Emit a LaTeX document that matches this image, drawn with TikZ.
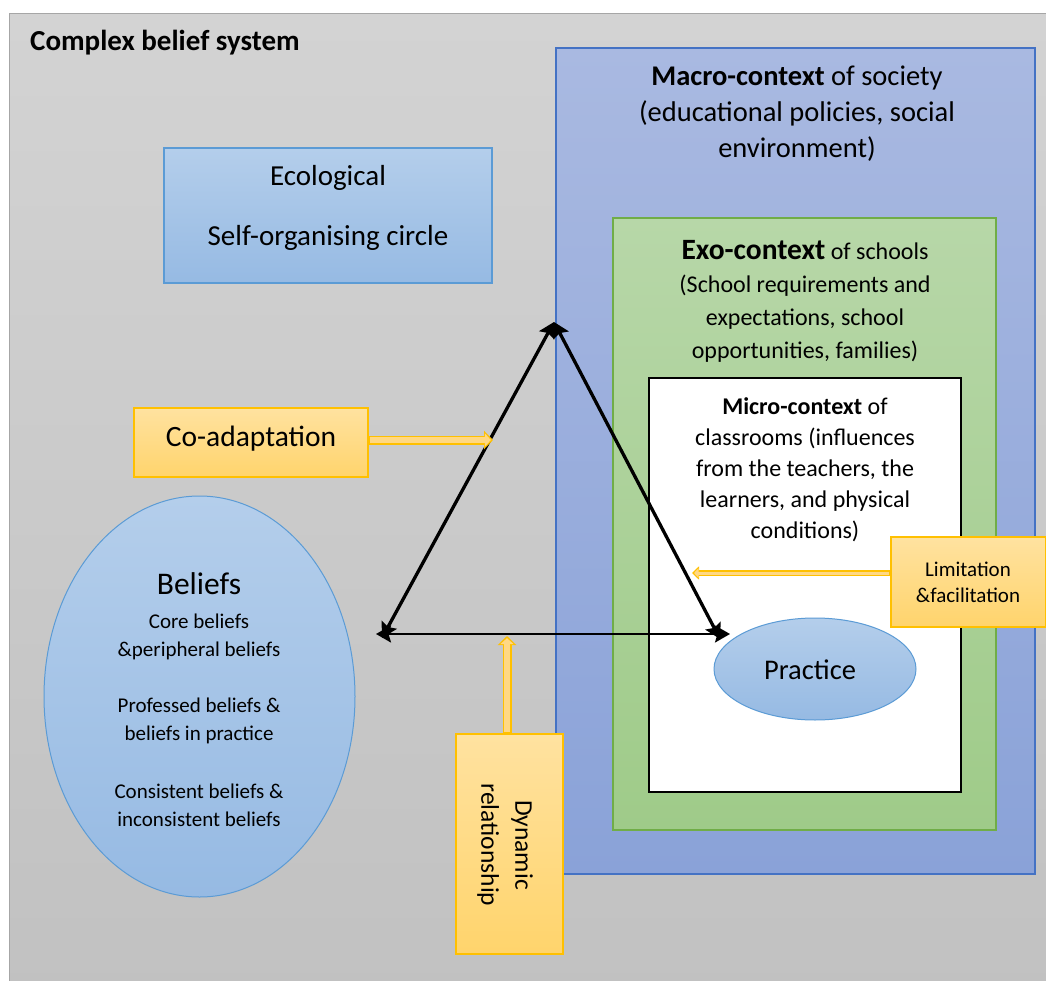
\documentclass[tikz,border=0pt]{standalone}
\usepackage{fontspec}
\setmainfont{Carlito}
\usetikzlibrary{arrows.meta,shapes.geometric,calc}
\definecolor{grayT}{HTML}{D3D3D3}
\definecolor{grayB}{HTML}{C1C1C1}
\definecolor{grayE}{HTML}{A6A6A6}
\definecolor{macroT}{HTML}{A9B9E1}
\definecolor{macroB}{HTML}{8AA2D8}
\definecolor{macroE}{HTML}{4472C4}
\definecolor{exoT}{HTML}{B7D7A8}
\definecolor{exoB}{HTML}{9FCB89}
\definecolor{exoE}{HTML}{70AD47}
\definecolor{lbT}{HTML}{B4CEEB}
\definecolor{lbB}{HTML}{96BAE3}
\definecolor{lbE}{HTML}{5B9BD5}
\definecolor{yT}{HTML}{FFE2A0}
\definecolor{yB}{HTML}{FFD46C}
\definecolor{yE}{HTML}{FFC000}
\definecolor{yF}{HTML}{FFD884}
\begin{document}
\begin{tikzpicture}[x=1pt,y=-1pt,
  box/.style={rectangle, inner sep=0pt, line width=1.3pt},
  macrobox/.style={box, draw=macroE, top color=macroT, bottom color=macroB},
  exobox/.style={box, draw=exoE, top color=exoT, bottom color=exoB},
  microbox/.style={box, draw=black, fill=white, line width=2.2pt},
  bluebox/.style={box, draw=lbE, top color=lbT, bottom color=lbB},
  yellowbox/.style={box, draw=yE, top color=yT, bottom color=yB},
  blueell/.style={ellipse, inner sep=0pt, draw=lbE, line width=1pt, top color=lbT, bottom color=lbB},
  txt/.style={inner sep=0pt, align=center, text=black},
  star tip/.tip={Stealth[length=15pt 0 0,width=17pt 0 0,inset=2.5pt 0]},
  triedge/.style={line width=3.3pt, black, {star tip}-{star tip}},
  tribase/.style={triedge, line width=2.3pt},
  yarrowout/.style={draw=yE, line width=9pt, -{Triangle[length=9pt,width=18pt]}},
  yarrowin/.style={draw=yF, line width=5.6pt, shorten >=2.2pt, -{Triangle[length=6pt,width=13pt]}},
  yarrowthinout/.style={draw=yE, line width=6pt, -{Triangle[length=7pt,width=13pt]}},
  yarrowthinin/.style={draw=yF, line width=3pt, shorten >=2pt, -{Triangle[length=4.5pt,width=9pt]}}
]
\useasboundingbox (0,0) rectangle (1046,981);
\clip (0,0) rectangle (1046,981);
\fill[white] (0,0) rectangle (1046,981);
% outer frame
\shade[top color=grayT, bottom color=grayB] (9.5,13.5) rectangle (1070,1000);
\draw[grayE, line width=1.3pt] (9.5,1000) -- (9.5,13.5) -- (1070,13.5);
\node[txt, anchor=west, font=\bfseries\fontsize{29}{34}\selectfont] (title) at (30,43) {Complex belief system};

% nested contexts
\node[macrobox, minimum width=479, minimum height=826] (macro) at (795.5,461) {};
\node[txt, font=\fontsize{28.5}{36}\selectfont] (macrotxt) at (797,114)
  {\textbf{Macro-context} of society\\(educational policies, social\\environment)};
\node[exobox, minimum width=383, minimum height=612] (exo) at (804.5,524) {};
\node[txt, font=\fontsize{24}{33}\selectfont] (exotxt) at (805,301)
  {{\fontsize{29.5}{33}\selectfont\textbf{Exo-context}} of schools\\(School requirements and\\expectations, school\\opportunities, families)};
\node[microbox, minimum width=312, minimum height=414] (micro) at (805,585) {};
\node[txt, font=\fontsize{24}{31}\selectfont] (microtxt) at (805,469.5)
  {\textbf{Micro-context} of\\classrooms (influences\\from the teachers, the\\learners, and physical\\conditions)};

% ecological box
\node[bluebox, minimum width=328, minimum height=135] (eco) at (328,215.5) {};
\node[txt, font=\fontsize{29}{60}\selectfont] (ecotxt) at (328,208) {Ecological\\Self-organising circle};

% beliefs ellipse
\node[blueell, minimum width=311, minimum height=401] (beliefs) at (199.5,696.5) {};
\node[txt, font=\fontsize{31.5}{36}\selectfont] (bt) at (199,584) {Beliefs};
\node[txt, font=\fontsize{21}{28}\selectfont] (b1) at (199,637) {Core beliefs\\\&peripheral beliefs};
\node[txt, font=\fontsize{21}{28}\selectfont] (b2) at (199,721) {Professed beliefs \&\\beliefs in practice};
\node[txt, font=\fontsize{21}{28}\selectfont] (b3) at (199,805) {Consistent beliefs \&\\inconsistent beliefs};

% practice ellipse
\node[blueell, minimum width=202, minimum height=102] (practice) at (815,669) {};
\node[txt, font=\fontsize{28.5}{34}\selectfont] (practxt) at (810,670) {Practice};

% yellow boxes
\node[yellowbox, minimum width=234, minimum height=69] (coad) at (251,442.5) {};
\node[txt, font=\fontsize{29.5}{34}\selectfont] (coadtxt) at (251,439) {Co-adaptation};
\node[yellowbox, minimum width=107, minimum height=220] (dyn) at (509.5,844) {};
\node[txt, rotate=-90, font=\fontsize{25.5}{34}\selectfont] (dyntxt) at (505,845) {Dynamic\\relationship};
\node[yellowbox, minimum width=155, minimum height=90] (lim) at (968.5,582) {};
\node[txt, font=\fontsize{21}{26}\selectfont] (limtxt) at (968,582) {Limitation\\\&facilitation};

% triangle
\coordinate (T) at (554,322);
\coordinate (L) at (382,638);
\coordinate (Lb) at (376,634);
\coordinate (R) at (720,639);
\coordinate (Rb) at (730,634);
\draw[triedge] (L) -- (T);
\draw[triedge] (T) -- (R);
\draw[tribase] (Lb) -- (Rb);

% yellow block arrows
\coordinate (coadEnd) at (493,440);
\coordinate (dynStart) at ($(dyn.north)+(-2.5,0)$);
\coordinate (dynEnd) at (507,636);
\coordinate (limStart) at (lim.west |- 0,573);
\coordinate (limEnd) at (692,573);
\draw[yarrowout] (coad.east |- coadEnd) -- (coadEnd);
\draw[yarrowin] ($(coad.east |- coadEnd)+(1,0)$) -- (coadEnd);
\draw[yarrowout] (dynStart) -- (dynEnd);
\draw[yarrowin] ($(dynStart)+(0,-1)$) -- (dynEnd);
\draw[yarrowthinout] (limStart) -- (limEnd);
\draw[yarrowthinin] ($(limStart)+(-1,0)$) -- (limEnd);
\end{tikzpicture}
\end{document}
